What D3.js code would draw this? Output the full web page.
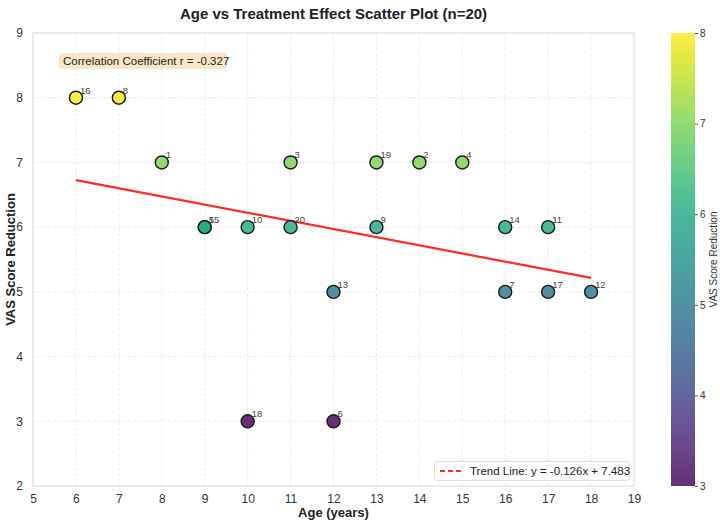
<!DOCTYPE html>
<html>
<head>
<meta charset="utf-8">
<script src="https://cdn.jsdelivr.net/npm/d3@7"></script>
<style>
  body { margin: 0; background: #fff; }
  svg { font-family: "Liberation Sans", Arial, sans-serif; }
</style>
</head>
<body>
<div id="chart"></div>
<script>
// patient data
const ids = [1, 2, 3, 4, 5, 6, 7, 8, 9, 10, 11, 12, 13, 14, 15, 16, 17, 18, 19, 20];
const ages = [8, 14, 11, 15, 9, 12, 16, 7, 13, 10, 17, 18, 12, 16, 9, 6, 17, 10, 13, 11];
const vas = [7, 7, 7, 7, 6, 3, 5, 8, 6, 6, 6, 5, 5, 6, 6, 8, 5, 3, 7, 6];
const xTicks = [5, 6, 7, 8, 9, 10, 11, 12, 13, 14, 15, 16, 17, 18, 19];
const yTicks = [2, 3, 4, 5, 6, 7, 8, 9];
const cbTicks = [3, 4, 5, 6, 7, 8];
const slope = -0.126;
const intercept = 7.483;
const rValue = -0.327;

const W = 720, H = 522;
const plot = { left: 33, right: 634, top: 33, bottom: 486 };

const svg = d3.select("#chart").append("svg")
  .attr("width", W).attr("height", H);

const x = d3.scaleLinear().domain([5, 19]).range([plot.left, plot.right]);
const y = d3.scaleLinear().domain([2, 9]).range([plot.bottom, plot.top]);
const color = d3.scaleSequential(d3.interpolateViridis).domain([3, 8]);

// grid
const grid = svg.append("g");
grid.selectAll(".gx").data(xTicks.slice(1, -1)).enter().append("line")
  .attr("x1", d => x(d)).attr("x2", d => x(d))
  .attr("y1", plot.top).attr("y2", plot.bottom)
  .attr("stroke", "#e6e6e6").attr("stroke-width", 0.8)
  .attr("stroke-dasharray", "3,2");
grid.selectAll(".gy").data(yTicks.slice(1, -1)).enter().append("line")
  .attr("y1", d => y(d)).attr("y2", d => y(d))
  .attr("x1", plot.left).attr("x2", plot.right)
  .attr("stroke", "#e6e6e6").attr("stroke-width", 0.8)
  .attr("stroke-dasharray", "3,2");

// frame
svg.append("rect")
  .attr("x", plot.left).attr("y", plot.top)
  .attr("width", plot.right - plot.left).attr("height", plot.bottom - plot.top)
  .attr("fill", "none").attr("stroke", "#d6d6d6").attr("stroke-width", 1);

// axes
const xAxis = svg.append("g")
  .attr("transform", "translate(0," + plot.bottom + ")")
  .call(d3.axisBottom(x).tickValues(xTicks).tickFormat(d3.format("d"))
    .tickSize(0).tickPadding(8));
const yAxis = svg.append("g")
  .attr("transform", "translate(" + plot.left + ",0)")
  .call(d3.axisLeft(y).tickValues(yTicks).tickFormat(d3.format("d"))
    .tickSize(0).tickPadding(10));
[xAxis, yAxis].forEach(a => {
  a.select(".domain").remove();
  a.selectAll("text").style("font-size", "12px").style("fill", "#333")
    .style("font-family", "Liberation Sans, Arial, sans-serif");
});

// trend line
svg.append("line")
  .attr("x1", x(d3.min(ages))).attr("y1", y(slope * d3.min(ages) + intercept))
  .attr("x2", x(d3.max(ages))).attr("y2", y(slope * d3.max(ages) + intercept))
  .attr("stroke", "#ff2a2a").attr("stroke-width", 2.2);

// points
const pts = ids.map((id, i) => ({ id: id, age: ages[i], vas: vas[i] }));
svg.append("g").selectAll("circle").data(pts).enter().append("circle")
  .attr("cx", d => x(d.age)).attr("cy", d => y(d.vas))
  .attr("r", 6.5)
  .attr("fill", d => color(d.vas)).attr("fill-opacity", 0.82)
  .attr("stroke", "#1a1a1a").attr("stroke-width", 1.4);

svg.append("g").selectAll("text").data(pts).enter().append("text")
  .attr("x", d => x(d.age) + 4).attr("y", d => y(d.vas) - 4)
  .style("font-size", "9.5px").style("fill", "#444")
  .text(d => d.id);

// correlation box
const corrText = "Correlation Coefficient r = " + rValue.toFixed(3);
svg.append("rect")
  .attr("x", 59).attr("y", 53).attr("width", 168).attr("height", 16)
  .attr("rx", 3).attr("fill", "#f5deb3").attr("fill-opacity", 0.75);
svg.append("text")
  .attr("x", 63).attr("y", 65)
  .style("font-size", "11.5px").style("fill", "#222")
  .text(corrText);

// legend
svg.append("rect")
  .attr("x", 434.5).attr("y", 461.5).attr("width", 195).attr("height", 19)
  .attr("rx", 3).attr("fill", "#fff").attr("fill-opacity", 0.9)
  .attr("stroke", "#ddd");
svg.append("line")
  .attr("x1", 440).attr("x2", 462).attr("y1", 471).attr("y2", 471)
  .attr("stroke", "#ff2a2a").attr("stroke-width", 2)
  .attr("stroke-dasharray", "5,3");
svg.append("text")
  .attr("x", 470).attr("y", 475)
  .style("font-size", "11.5px").style("fill", "#222")
  .text("Trend Line: y = " + slope.toFixed(3) + "x + " + intercept.toFixed(3));

// title and axis labels
svg.append("text")
  .attr("x", (plot.left + plot.right) / 2).attr("y", 19)
  .attr("text-anchor", "middle")
  .style("font-size", "15px").style("font-weight", "bold").style("fill", "#222")
  .text("Age vs Treatment Effect Scatter Plot (n=20)");
svg.append("text")
  .attr("x", (plot.left + plot.right) / 2).attr("y", 517)
  .attr("text-anchor", "middle")
  .style("font-size", "13px").style("font-weight", "bold").style("fill", "#222")
  .text("Age (years)");
svg.append("text")
  .attr("transform", "rotate(-90)")
  .attr("x", -(plot.top + plot.bottom) / 2).attr("y", 15)
  .attr("text-anchor", "middle")
  .style("font-size", "13px").style("font-weight", "bold").style("fill", "#222")
  .text("VAS Score Reduction");

// colorbar
const cb = { left: 671, width: 24 };
const cbScale = d3.scaleLinear().domain([3, 8]).range([plot.bottom, plot.top]);
const defs = svg.append("defs");
const grad = defs.append("linearGradient").attr("id", "vir")
  .attr("x1", "0").attr("x2", "0").attr("y1", "1").attr("y2", "0");
d3.range(0, 1.001, 0.05).forEach(t => {
  grad.append("stop").attr("offset", t)
    .attr("stop-color", d3.interpolateViridis(t)).attr("stop-opacity", 0.82);
});
svg.append("rect")
  .attr("x", cb.left).attr("y", plot.top)
  .attr("width", cb.width).attr("height", plot.bottom - plot.top)
  .attr("fill", "url(#vir)");
const cbAxis = svg.append("g")
  .attr("transform", "translate(" + (cb.left + cb.width) + ",0)")
  .call(d3.axisRight(cbScale).tickValues(cbTicks).tickFormat(d3.format("d"))
    .tickSize(3).tickPadding(2));
cbAxis.select(".domain").remove();
cbAxis.selectAll("line").attr("stroke", "#555");
cbAxis.selectAll("text").style("font-size", "10px").style("fill", "#333")
  .style("font-family", "Liberation Sans, Arial, sans-serif");
svg.append("text")
  .attr("transform", "rotate(-90)")
  .attr("x", -(plot.top + plot.bottom) / 2).attr("y", 717)
  .attr("text-anchor", "middle")
  .style("font-size", "10px").style("fill", "#333")
  .text("VAS Score Reduction");
</script>
</body>
</html>
